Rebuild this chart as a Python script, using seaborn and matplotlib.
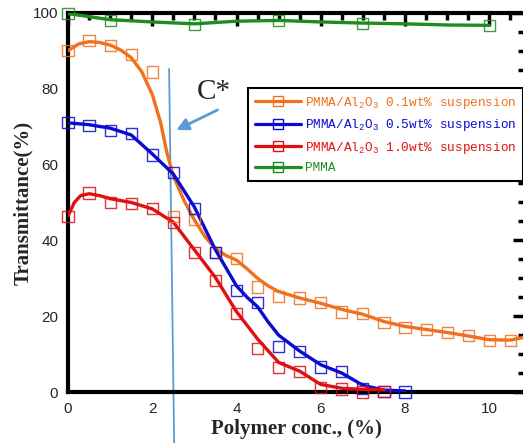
import numpy as np
import pandas as pd
import matplotlib
matplotlib.use("Agg")
import matplotlib.pyplot as plt
from matplotlib.lines import Line2D
import seaborn as sns

# ---------------- data ----------------
series_names = [
    "PMMA/Al$_2$O$_3$ 0.1wt% suspension",
    "PMMA/Al$_2$O$_3$ 0.5wt% suspension",
    "PMMA/Al$_2$O$_3$ 1.0wt% suspension",
    "PMMA",
]

# measured points (markers)
x_01 = [0, 0.5, 1, 1.5, 2, 2.5, 3, 3.5, 4, 4.5, 5, 5.5, 6, 6.5, 7, 7.5, 8, 8.5, 9, 9.5, 10, 10.5]
y_01 = [90, 92.6, 91.5, 89.1, 84.4, 46.4, 45.6, 36.7, 35.3, 27.7, 25.3, 24.8, 23.5, 21.1, 20.7,
        18.3, 17.1, 16.6, 15.7, 15.0, 13.5, 13.5]
x_05 = [0, 0.5, 1, 1.5, 2, 2.5, 3, 3.5, 4, 4.5, 5, 5.5, 6, 6.5, 7, 7.5, 8]
y_05 = [71.2, 70.2, 68.9, 68.3, 62.5, 57.8, 48.5, 36.7, 26.8, 23.5, 12.1, 10.8, 6.6, 5.5, 1.0, 0.2, 0]
x_10 = [0, 0.5, 1, 1.5, 2, 2.5, 3, 3.5, 4, 4.5, 5, 5.5, 6, 6.5, 7, 7.5]
y_10 = [46.4, 52.5, 50.1, 49.8, 48.5, 44.8, 36.7, 29.5, 20.8, 11.6, 6.4, 5.5, 1.1, 0.8, 0, 0.2]
x_pm = [0, 1, 3, 5, 7, 10]
y_pm = [99.8, 98, 97, 98, 97.3, 96.7]

# smooth fitted curves
fx_01 = [0, 0.25, 0.5, 0.75, 1, 1.25, 1.5, 1.75, 2, 2.2, 2.35, 2.5, 2.75, 3, 3.25, 3.5, 3.75, 4,
         4.25, 4.5, 4.75, 5, 5.5, 6, 6.5, 7, 7.5, 8, 8.5, 9, 9.5, 10, 10.5, 10.85]
fy_01 = [90, 91.8, 92.4, 92.2, 91.5, 90.2, 88.2, 84.5, 78.5, 71, 63, 57, 50.6, 45.4, 41, 37.8, 36,
         34.8, 32.5, 30, 28, 26.5, 24.8, 23.4, 21.8, 20.5, 18.6, 17.3, 16.5, 15.7, 14.8, 13.8, 13.7, 14.5]
fx_05 = [0, 0.5, 1, 1.5, 2, 2.5, 3, 3.5, 4, 4.25, 4.5, 4.75, 5, 5.5, 6, 6.5, 7, 7.5, 8]
fy_05 = [71, 70.5, 69.6, 67.8, 62.8, 57.5, 48.8, 37.5, 28, 25, 22.5, 18.5, 15, 10.8, 7.2, 5, 1.8, 0.5, 0.3]
fx_10 = [0, 0.15, 0.3, 0.5, 0.75, 1, 1.5, 2, 2.5, 3, 3.5, 4, 4.5, 5, 5.5, 6, 6.5, 7, 7.5]
fy_10 = [46.4, 50, 51.8, 52.3, 51.8, 51, 50, 48.3, 44.8, 37.5, 30.2, 21.2, 14, 7.8, 5.5, 2, 1, 0.7, 0.6]
fx_pm = [0, 0.5, 1, 2, 3, 4, 5, 6, 7, 8, 9, 10]
fy_pm = [99.8, 99, 98.2, 97.6, 97.1, 97.8, 98, 97.6, 97.3, 97.1, 96.8, 96.7]

# C* guide line and arrow
cstar_line_x = [2.40, 2.52]
cstar_line_y = [85.2, -13.5]
arrow_tail = (3.55, 74.4)
arrow_head = (2.57, 69.1)

x_ticks = [0, 2, 4, 6, 8, 10]
y_ticks = [0, 20, 40, 60, 80, 100]

colors = ["#F0701E", "#0A0AD2", "#E01010", "#1E8C1E"]
C_BLUE = "#5B9BD5"

# ---------------- figure ----------------
sns.set_style("white")
plt.rcParams["font.family"] = ["Liberation Sans Narrow", "Liberation Sans", "DejaVu Sans"]
plt.rcParams["mathtext.fontset"] = "custom"
plt.rcParams["mathtext.rm"] = "Liberation Mono"
plt.rcParams["mathtext.it"] = "Liberation Mono"

fig = plt.figure(figsize=(5.23, 4.43), dpi=100)
ax = fig.add_axes([0.130, 0.115, 0.874, 0.856])

markers = [(x_01, y_01), (x_05, y_05), (x_10, y_10), (x_pm, y_pm)]
fits = [(fx_01, fy_01), (fx_05, fy_05), (fx_10, fy_10), (fx_pm, fy_pm)]

for (fx, fy), col in zip(fits, colors):
    df = pd.DataFrame({"x": fx, "y": fy})
    sns.lineplot(data=df, x="x", y="y", ax=ax, color=col, lw=2.4, sort=False,
                 estimator=None, zorder=3)
for (mx, my), col in zip(markers, colors):
    df = pd.DataFrame({"x": mx, "y": my})
    sns.scatterplot(data=df, x="x", y="y", ax=ax, marker="s", s=64, facecolor="none",
                    edgecolor=col, linewidth=1.0, alpha=0.85, zorder=4, clip_on=False)

# C* annotation
ax.plot(cstar_line_x, cstar_line_y, color=C_BLUE, lw=1.3, clip_on=False, zorder=2)
ax.annotate("", xy=arrow_head, xytext=arrow_tail,
            arrowprops=dict(arrowstyle="-|>", color=C_BLUE, lw=2.0, mutation_scale=18,
                            shrinkA=0, shrinkB=0), zorder=5)
ax.text(3.45, 79.0, "C*", family="Liberation Serif", fontsize=21, ha="center", va="center")

ax.set_xlim(0, 10.85)
ax.set_ylim(0, 100)
ax.set_xticks(x_ticks)
ax.set_yticks(y_ticks)
ax.set_xticks(np.arange(0, 11, 0.5), minor=True)
ax.set_yticks(np.arange(0, 101, 5), minor=True)
ax.tick_params(which="both", direction="in", top=True, right=True, color="black")
ax.tick_params(which="major", length=9, width=2.5, labelsize=11, pad=7)
ax.tick_params(which="minor", length=5, width=2.5)
for sp in ax.spines.values():
    sp.set_color("black")
    sp.set_linewidth(3)
ax.spines["right"].set_linewidth(1.5)

ax.set_xlabel("Polymer conc., (%)", family="Liberation Serif", fontweight="bold",
              fontsize=15, labelpad=2)
ax.set_ylabel("Transmittance(%)", family="Liberation Serif", fontweight="bold",
              fontsize=15, labelpad=0)

handles = [Line2D([0], [0], color=c, lw=2.3, marker="s", markersize=7,
                  markerfacecolor="none", markeredgecolor=c, markeredgewidth=1.0)
           for c in colors]
leg = ax.legend(handles, series_names, loc="upper left", bbox_to_anchor=(0.394, 0.802),
                frameon=True, fancybox=False, edgecolor="black", framealpha=1,
                prop={"family": "Liberation Mono", "size": 9.2}, handlelength=3.6,
                handletextpad=0.3, labelspacing=0.5, borderpad=0.55, borderaxespad=0)
leg.get_frame().set_linewidth(1.5)
for t, c in zip(leg.get_texts(), colors):
    t.set_color(c)

fig.savefig("out.png", dpi=100)
